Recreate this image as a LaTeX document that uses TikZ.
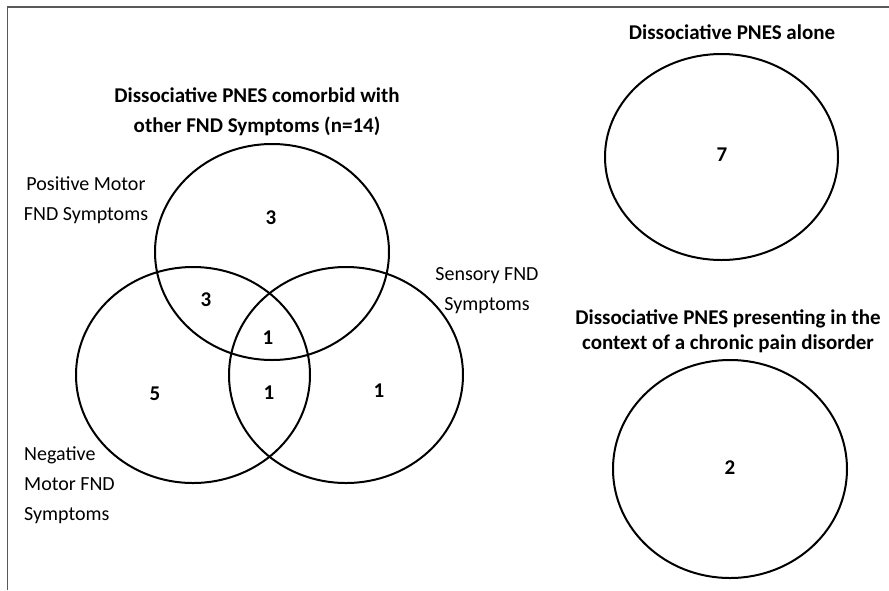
\documentclass[tikz,border=0pt]{standalone}
\usepackage{fontspec}
\setmainfont{Carlito}
\usetikzlibrary{shapes.geometric}
\begin{document}
\begin{tikzpicture}[x=1pt,y=-1pt,
  setcirc/.style={draw=black, line width=2pt, ellipse, inner sep=0pt, minimum width=234pt, minimum height=216pt},
  title/.style={font=\fontsize{21}{30}\selectfont\bfseries, align=center, inner sep=0pt},
  lab/.style={font=\fontsize{20}{30}\selectfont, align=center, inner sep=0pt},
  num/.style={font=\fontsize{21}{25}\selectfont\bfseries, inner sep=0pt}]
\useasboundingbox (0,0) rectangle (889,590);
\draw[line width=1.3pt, black!65] (7.5,590) -- (7.5,7) -- (889,7);
% Venn circles
\node[setcirc] (pos) at (272,252) {};
\node[setcirc] (neg) at (193,375) {};
\node[setcirc] (sen) at (346,375) {};
% separate circles
\node[setcirc, minimum width=233pt, minimum height=206pt] (alone) at (721.5,157) {};
\node[setcirc, minimum width=234pt, minimum height=218pt] (pain) at (730,469) {};
% titles
\node[title] (t1) at (257,112) {Dissociative PNES comorbid with\\other FND Symptoms (n=14)};
\node[title] (t2) at (732,32) {Dissociative PNES alone};
\node[title, font=\fontsize{21}{25}\selectfont\bfseries] (t3) at (728,331) {Dissociative PNES presenting in the\\context of a chronic pain disorder};
% labels
\node[lab] (lpos) at (86,200) {Positive Motor\\FND Symptoms};
\node[lab] (lsen) at (487,291) {Sensory FND\\Symptoms};
\node[lab, align=left, anchor=west] (lneg) at (24,485) {Negative\\Motor FND\\Symptoms};
% numbers
\node[num] at (271,218) {3};
\node[num] at (206,300) {3};
\node[num] at (268,338) {1};
\node[num] at (269,393) {1};
\node[num] at (155,394) {5};
\node[num] at (379,391) {1};
\node[num] at (722,155) {7};
\node[num] at (730,468) {2};
\end{tikzpicture}
\end{document}
